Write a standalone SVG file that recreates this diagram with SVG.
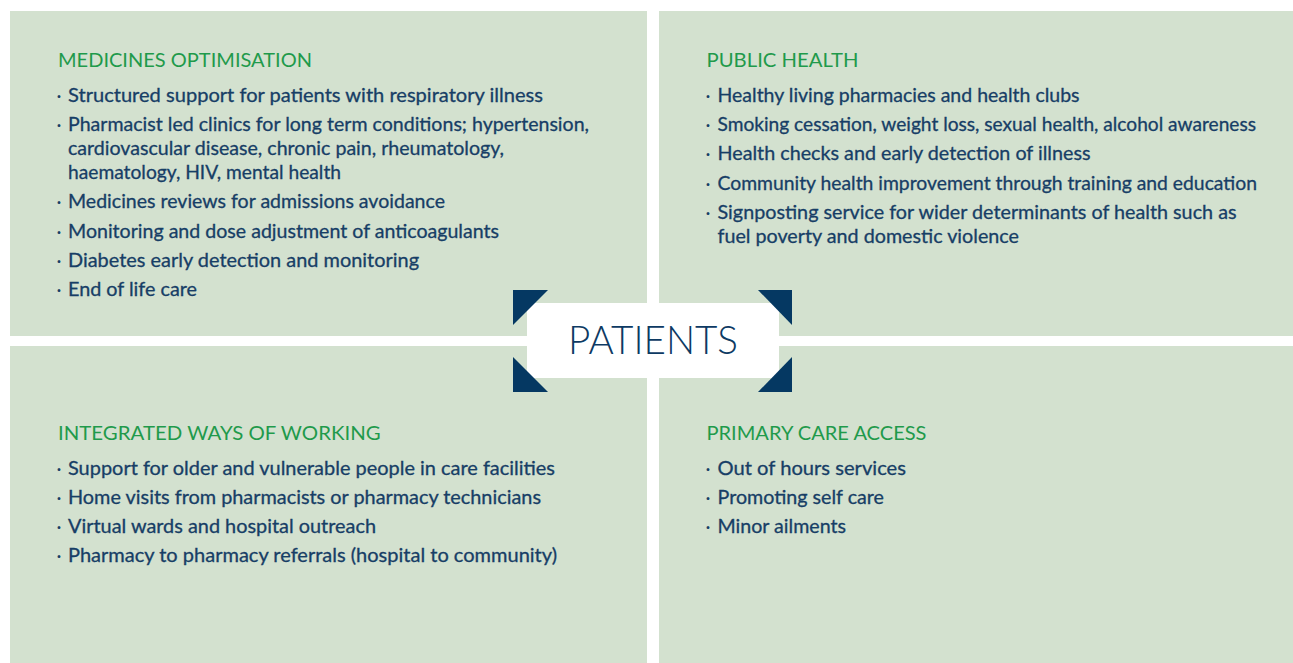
<svg xmlns="http://www.w3.org/2000/svg" width="1293" height="663" viewBox="0 0 1293 663">
  <style>
    .panel { fill: #d3e1cf; }
    .head { font-family: Lato, "Open Sans", "Liberation Sans", sans-serif; font-size: 20px; fill: #1f9a4b; }
    .item { font-family: Lato, "Open Sans", "Liberation Sans", sans-serif; font-size: 19px; fill: #173e66; stroke: #173e66; stroke-width: 0.3px; }
    .dot { font-family: Lato, "Open Sans", "Liberation Sans", sans-serif; font-size: 19px; fill: #173e66; text-anchor: middle; }
    .corner { fill: #053862; }
    .hub { font-family: Lato, "Open Sans", "Liberation Sans", sans-serif; font-size: 40px; font-weight: 300; fill: #0d3a63; text-anchor: middle; }
  </style>

  <rect x="0" y="0" width="1293" height="663" fill="#ffffff"/>

  <!-- Top-left quadrant -->
  <g id="medicines-optimisation">
    <rect class="panel" x="10" y="11" width="637" height="325"/>
    <text class="head" x="58" y="67" textLength="254" lengthAdjust="spacingAndGlyphs">MEDICINES OPTIMISATION</text>
    <text class="dot" x="59" y="102">·</text>
    <text class="item" x="68" y="102" textLength="475" lengthAdjust="spacingAndGlyphs">Structured support for patients with respiratory illness</text>
    <text class="dot" x="59" y="131">·</text>
    <text class="item" x="68" y="131" textLength="521" lengthAdjust="spacingAndGlyphs">Pharmacist led clinics for long term conditions; hypertension,</text>
    <text class="item" x="68" y="154.5" textLength="436" lengthAdjust="spacingAndGlyphs">cardiovascular disease, chronic pain, rheumatology,</text>
    <text class="item" x="68" y="178.5" textLength="273" lengthAdjust="spacingAndGlyphs">haematology, HIV, mental health</text>
    <text class="dot" x="59" y="208">·</text>
    <text class="item" x="68" y="208" textLength="377" lengthAdjust="spacingAndGlyphs">Medicines reviews for admissions avoidance</text>
    <text class="dot" x="59" y="237.5">·</text>
    <text class="item" x="68" y="237.5" textLength="431" lengthAdjust="spacingAndGlyphs">Monitoring and dose adjustment of anticoagulants</text>
    <text class="dot" x="59" y="267">·</text>
    <text class="item" x="68" y="267" textLength="351" lengthAdjust="spacingAndGlyphs">Diabetes early detection and monitoring</text>
    <text class="dot" x="59" y="296">·</text>
    <text class="item" x="68" y="296" textLength="129" lengthAdjust="spacingAndGlyphs">End of life care</text>
  </g>

  <!-- Top-right quadrant -->
  <g id="public-health">
    <rect class="panel" x="659" y="11" width="634" height="325"/>
    <text class="head" x="706.5" y="67" textLength="152" lengthAdjust="spacingAndGlyphs">PUBLIC HEALTH</text>
    <text class="dot" x="708" y="102">·</text>
    <text class="item" x="717.5" y="102" textLength="362" lengthAdjust="spacingAndGlyphs">Healthy living pharmacies and health clubs</text>
    <text class="dot" x="708" y="131">·</text>
    <text class="item" x="717.5" y="131" textLength="538.5" lengthAdjust="spacingAndGlyphs">Smoking cessation, weight loss, sexual health, alcohol awareness</text>
    <text class="dot" x="708" y="160">·</text>
    <text class="item" x="717.5" y="160" textLength="373" lengthAdjust="spacingAndGlyphs">Health checks and early detection of illness</text>
    <text class="dot" x="708" y="189.5">·</text>
    <text class="item" x="717.5" y="189.5" textLength="539.5" lengthAdjust="spacingAndGlyphs">Community health improvement through training and education</text>
    <text class="dot" x="708" y="218.5">·</text>
    <text class="item" x="717.5" y="218.5" textLength="519" lengthAdjust="spacingAndGlyphs">Signposting service for wider determinants of health such as</text>
    <text class="item" x="717.5" y="242.5" textLength="301.5" lengthAdjust="spacingAndGlyphs">fuel poverty and domestic violence</text>
  </g>

  <!-- Bottom-left quadrant -->
  <g id="integrated-ways-of-working">
    <rect class="panel" x="10" y="346" width="637" height="317"/>
    <text class="head" x="58" y="440" textLength="322.7" lengthAdjust="spacingAndGlyphs">INTEGRATED WAYS OF WORKING</text>
    <text class="dot" x="59" y="474.5">·</text>
    <text class="item" x="68" y="474.5" textLength="487" lengthAdjust="spacingAndGlyphs">Support for older and vulnerable people in care facilities</text>
    <text class="dot" x="59" y="503.5">·</text>
    <text class="item" x="68" y="503.5" textLength="473" lengthAdjust="spacingAndGlyphs">Home visits from pharmacists or pharmacy technicians</text>
    <text class="dot" x="59" y="533">·</text>
    <text class="item" x="68" y="533" textLength="308" lengthAdjust="spacingAndGlyphs">Virtual wards and hospital outreach</text>
    <text class="dot" x="59" y="562">·</text>
    <text class="item" x="68" y="562" textLength="489" lengthAdjust="spacingAndGlyphs">Pharmacy to pharmacy referrals (hospital to community)</text>
  </g>

  <!-- Bottom-right quadrant -->
  <g id="primary-care-access">
    <rect class="panel" x="659" y="346" width="634" height="317"/>
    <text class="head" x="706.5" y="440" textLength="220" lengthAdjust="spacingAndGlyphs">PRIMARY CARE ACCESS</text>
    <text class="dot" x="708" y="474.5">·</text>
    <text class="item" x="717.5" y="474.5" textLength="188.5" lengthAdjust="spacingAndGlyphs">Out of hours services</text>
    <text class="dot" x="708" y="503.5">·</text>
    <text class="item" x="717.5" y="503.5" textLength="166.5" lengthAdjust="spacingAndGlyphs">Promoting self care</text>
    <text class="dot" x="708" y="533">·</text>
    <text class="item" x="717.5" y="533" textLength="128.5" lengthAdjust="spacingAndGlyphs">Minor ailments</text>
  </g>

  <!-- Central hub with corner brackets -->
  <g id="patients">
    <rect x="527" y="303" width="252" height="75" fill="#ffffff"/>
    <polygon class="corner" points="513,290 548,290 513,325"/>
    <polygon class="corner" points="792,290 758,290 792,325"/>
    <polygon class="corner" points="513,392 513,357 548,392"/>
    <polygon class="corner" points="792,392 792,357 758,392"/>
    <text class="hub" x="653" y="353.5" textLength="170" lengthAdjust="spacingAndGlyphs">PATIENTS</text>
  </g>
</svg>
